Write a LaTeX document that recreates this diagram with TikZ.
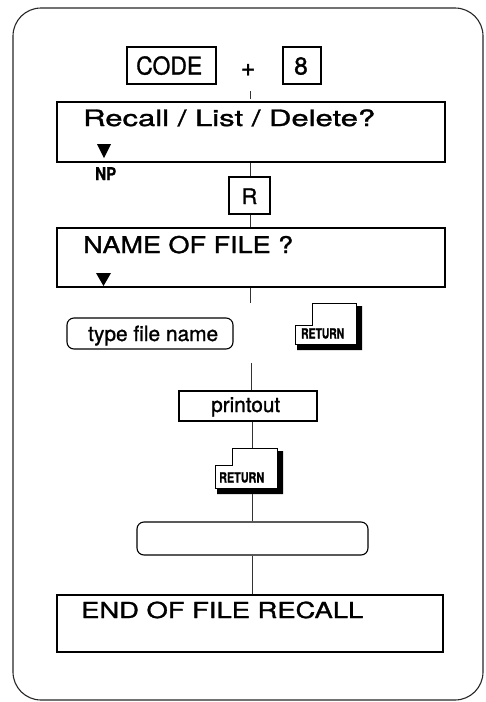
\documentclass[tikz,border=0pt]{standalone}
\usepackage{fontspec}
\setmainfont[FakeBold=1.2]{TeX Gyre Heros}
\newfontfamily\boldkey[FakeBold=1.0]{TeX Gyre Heros Bold}
\usepackage{graphicx}
\newcommand\wtext[3]{\resizebox{#1pt}{\height}{\fontsize{#2}{#2}\selectfont #3}}
\newcommand\retkey[7]{% name, L, T, R, B, stepx, stepy
  \fill (#4,#3+3) -- (#4+6,#3+3) -- (#4+6,#5+6) -- (#2+2,#5+6) -- (#2+2,#5) -- (#4,#5) -- cycle;
  \draw[line width=0.9pt] (#2,#7) -- (#6,#7) -- (#6,#3) -- (#4,#3) -- (#4,#5) -- (#2,#5) -- cycle;
  \path (#2,#3) -- (#4+6,#5+6) node[midway, inner sep=0, minimum width=#4+6-#2, minimum height=#5+6-#3] (#1) {};
}
\tikzset{
  frame/.style={draw=black!85, line width=1.1pt, rounded corners=28pt},
  bigbox/.style={draw, line width=2.4pt, inner sep=0},
  keybox/.style={draw, line width=1.1pt, inner sep=0},
  pill/.style={draw, line width=1.1pt, rounded corners=7pt, inner sep=0},
  conn/.style={draw=black!80, line width=0.8pt},
  lbl/.style={inner sep=0, anchor=base west},
  clbl/.style={inner sep=0, anchor=base},
}
\begin{document}
\begin{tikzpicture}[x=1pt,y=-1pt]
\useasboundingbox (0,0) rectangle (485,702);
\draw[frame] (13,8) rectangle (483,700);

% axes for connectors
\coordinate (ax) at (250,0);
\coordinate (bx) at (252,0);

% top keys
\node[keybox, minimum width=89, minimum height=37] (code) at (171.5,65.5) {};
\node[lbl] (codet) at (136,74.5) {\wtext{66}{24.5}{CODE}};
\node[keybox, minimum width=38, minimum height=37] (eight) at (302,65.5) {};
\node[clbl] (eightt) at (301,74.5) {\fontsize{24.5}{24.5}\selectfont 8};
\node[inner sep=0] (plus) at (248,70) {\fontsize{25}{25}\selectfont +};
\coordinate (t1) at (250,91);
\coordinate (t2) at (250,99);
\draw[conn] (t1) -- (t2);

% Recall box
\node[bigbox, minimum width=388, minimum height=60] (rec) at (251,132) {};
\node[lbl] (rect) at (83,126) {\wtext{292}{22.5}{Recall / List / Delete?}};
\fill (97,144) -- (111,144) -- (104,158) -- cycle;
\node[lbl] (np) at (95,180) {\wtext{21}{17.5}{\boldkey NP}};

% R key
\node[keybox, minimum width=41, minimum height=37] (rbox) at (249.5,195.5) {};
\node[clbl] (rt) at (249.5,204) {\fontsize{21.5}{21.5}\selectfont R};

% NAME box
\node[bigbox, minimum width=388, minimum height=59] (name) at (251,257.5) {};
\node[lbl] (namet) at (83,253) {\wtext{210}{23}{NAME OF FILE ?}};
\fill (96,273) -- (111,273) -- (103.5,286) -- cycle;

% type file name + RETURN
\node[pill, minimum width=166, minimum height=31] (tfn) at (150,333.5) {};
\node[lbl] (tfnt) at (88,341) {\wtext{130}{21}{type file name}};
\retkey{ret1}{295}{303}{356}{344}{312}{325}
\node[lbl] (ret1t) at (301,338.5) {\wtext{43}{14}{\boldkey RETURN}};

% printout
\node[keybox, minimum width=138, minimum height=30] (pr) at (248,406) {};
\node[lbl] (prt) at (211,412) {\wtext{69}{21}{printout}};

% second RETURN
\retkey{ret2}{215}{448}{277}{488}{232}{465}
\node[lbl] (ret2t) at (219,482.5) {\wtext{45}{14}{\boldkey RETURN}};

% empty pill
\node[pill, minimum width=231, minimum height=33] (empty) at (252.5,538.5) {};

% END box
\node[bigbox, minimum width=386, minimum height=57] (endb) at (250,623.5) {};
\node[lbl] (endt) at (81,618) {\wtext{282}{22}{END OF FILE RECALL}};

% connectors
\coordinate (n2) at (250,303);
\coordinate (p0) at (251,363);
\draw[conn] (rec.south -| ax) -- (rbox.north -| ax);
\draw[conn] (rbox.south -| ax) -- (name.north -| ax);
\draw[conn] (name.south -| ax) -- (n2);
\draw[conn] (p0) -- (pr.north -| p0);
\draw[conn] (pr.south -| bx) -- (ret2.north -| bx);
\draw[conn] (ret2.south -| bx) -- (empty.north -| bx);
\draw[conn] (empty.south -| bx) -- (endb.north -| bx);
\end{tikzpicture}
\end{document}
